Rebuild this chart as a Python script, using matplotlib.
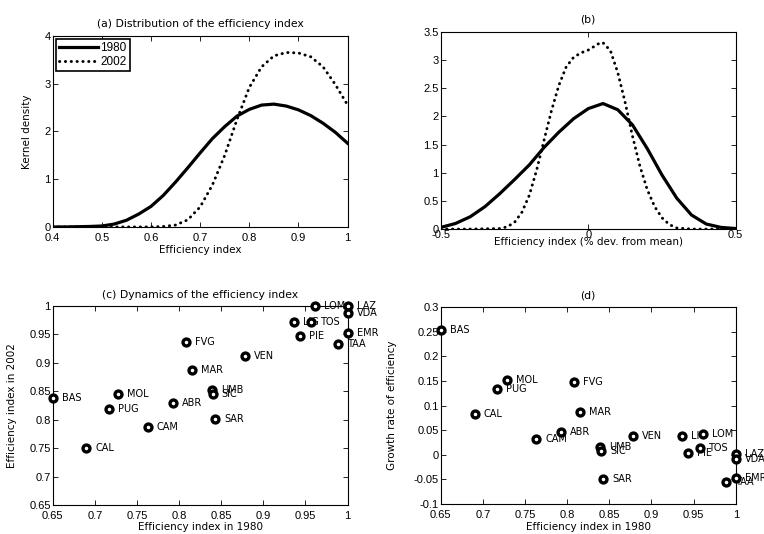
import numpy as np
import matplotlib
matplotlib.use('Agg')
import matplotlib.pyplot as plt
from matplotlib.ticker import FuncFormatter, MultipleLocator

plt.rcParams['font.family'] = ['DejaVu Sans']
plt.rcParams['font.size'] = 7.5
fuente_ticks = ['Liberation Sans Narrow', 'Liberation Sans', 'DejaVu Sans']

# Panel (a): densidad del indice de eficiencia
x_a_1980 = [0.40, 0.425, 0.45, 0.475, 0.50, 0.525, 0.55, 0.575, 0.60, 0.625, 0.65, 0.675, 0.70,
            0.725, 0.75, 0.775, 0.80, 0.825, 0.85, 0.875, 0.90, 0.925, 0.95, 0.975, 1.00]
dens_a_1980 = [0.00, 0.00, 0.005, 0.01, 0.02, 0.06, 0.14, 0.27, 0.43, 0.66, 0.94, 1.24, 1.55,
               1.85, 2.10, 2.32, 2.46, 2.55, 2.57, 2.53, 2.45, 2.33, 2.17, 1.98, 1.75]
x_a_2002 = [0.40, 0.45, 0.50, 0.55, 0.60, 0.625, 0.65, 0.675, 0.70, 0.725, 0.75, 0.775, 0.80,
            0.825, 0.85, 0.875, 0.90, 0.925, 0.95, 0.975, 1.00]
dens_a_2002 = [0.00, 0.00, 0.00, 0.00, 0.00, 0.01, 0.04, 0.15, 0.42, 0.88, 1.50, 2.25, 2.92,
               3.35, 3.58, 3.65, 3.64, 3.56, 3.35, 2.98, 2.55]

# Panel (b): densidad en % de desviacion de la media
x_b_1980 = [-0.50, -0.45, -0.40, -0.35, -0.30, -0.25, -0.20, -0.15, -0.10, -0.05, 0.00, 0.05,
            0.10, 0.15, 0.20, 0.25, 0.30, 0.35, 0.40, 0.45, 0.50]
dens_b_1980 = [0.03, 0.10, 0.22, 0.40, 0.63, 0.88, 1.14, 1.45, 1.72, 1.96, 2.14, 2.23,
               2.12, 1.85, 1.43, 0.96, 0.55, 0.25, 0.09, 0.03, 0.01]
x_b_2002 = [-0.50, -0.40, -0.30, -0.275, -0.25, -0.225, -0.20, -0.175, -0.15, -0.125, -0.10,
            -0.075, -0.05, -0.025, 0.00, 0.025, 0.04, 0.05, 0.075, 0.10, 0.125, 0.15, 0.175,
            0.20, 0.225, 0.25, 0.275, 0.30, 0.35, 0.40, 0.50]
dens_b_2002 = [0.00, 0.00, 0.01, 0.04, 0.12, 0.30, 0.60, 1.05, 1.58, 2.10, 2.55,
               2.88, 3.05, 3.13, 3.18, 3.26, 3.31, 3.31, 3.17, 2.78, 2.25, 1.65, 1.12,
               0.70, 0.40, 0.20, 0.08, 0.02, 0.00, 0.00, 0.00]

# Panels (c) y (d): regiones
regiones = ['BAS', 'MOL', 'PUG', 'CAL', 'CAM', 'ABR', 'FVG', 'MAR', 'UMB', 'SIC',
            'SAR', 'VEN', 'LIG', 'TOS', 'PIE', 'LOM', 'LAZ', 'VDA', 'EMR', 'TAA']
efic_1980 = [0.650, 0.728, 0.717, 0.690, 0.763, 0.793, 0.808, 0.815, 0.839, 0.840,
             0.843, 0.878, 0.936, 0.957, 0.943, 0.961, 1.000, 1.000, 1.000, 0.988]
efic_2002 = [0.838, 0.846, 0.819, 0.750, 0.788, 0.830, 0.936, 0.888, 0.852, 0.845,
             0.802, 0.912, 0.972, 0.972, 0.947, 1.000, 1.000, 0.988, 0.952, 0.934]
crecimiento = [0.254, 0.151, 0.133, 0.083, 0.032, 0.046, 0.147, 0.086, 0.016, 0.007,
               -0.049, 0.038, 0.038, 0.014, 0.004, 0.042, 0.001, -0.009, -0.047, -0.055]

fmt = FuncFormatter(lambda v, p: '%g' % round(v, 4))


def estilo(ax, xpad=4):
    ax.tick_params(direction='in', top=True, right=True, length=3.5, width=0.6,
                   labelsize=8, colors='black', labelfontfamily=fuente_ticks)
    ax.tick_params(axis='x', pad=xpad)
    ax.tick_params(axis='y', pad=1.5)
    for s in ax.spines.values():
        s.set_linewidth(0.8)
    ax.xaxis.set_major_formatter(fmt)
    ax.yaxis.set_major_formatter(fmt)


fig = plt.figure(figsize=(7.64, 5.34), dpi=100)
ax_a = fig.add_axes([0.069, 0.575, 0.386, 0.358])
ax_b = fig.add_axes([0.577, 0.571, 0.386, 0.369])
ax_c = fig.add_axes([0.069, 0.054, 0.386, 0.373])
ax_d = fig.add_axes([0.577, 0.056, 0.386, 0.369])

punteado = dict(linestyle=(0, (0.1, 1.9)), dash_capstyle='round', lw=2.1, color='black')

# (a)
ax_a.plot(x_a_1980, dens_a_1980, color='black', lw=2.3, label='1980')
ax_a.plot(x_a_2002, dens_a_2002, label='2002', **punteado)
ax_a.set_xlim(0.4, 1)
ax_a.set_ylim(0, 4)
ax_a.xaxis.set_major_locator(MultipleLocator(0.1))
ax_a.yaxis.set_major_locator(MultipleLocator(1))
estilo(ax_a)
ax_a.set_title('(a) Distribution of the efficiency index', fontsize=7.8, pad=6)
ax_a.set_xlabel('Efficiency index')
ax_a.set_ylabel('Kernel density')
ax_a.xaxis.set_label_coords(0.5, -0.094)
ax_a.yaxis.set_label_coords(-0.071, 0.5)
leg = ax_a.legend(loc='upper left', fancybox=False, edgecolor='black',
                  prop={'family': ['Liberation Sans'], 'size': 8.5},
                  handlelength=3.3, borderaxespad=0.3, borderpad=0.25, labelspacing=0.15,
                  handletextpad=0.2, framealpha=1)
leg.get_frame().set_linewidth(1.2)

# (b)
ax_b.plot(x_b_1980, dens_b_1980, color='black', lw=2.3)
ax_b.plot(x_b_2002, dens_b_2002, **punteado)
ax_b.set_xlim(-0.5, 0.5)
ax_b.set_ylim(0, 3.5)
ax_b.xaxis.set_major_locator(MultipleLocator(0.5))
ax_b.yaxis.set_major_locator(MultipleLocator(0.5))
estilo(ax_b, xpad=1)
ax_b.set_title('(b)', fontsize=7.8, pad=7)
ax_b.set_xlabel('Efficiency index (% dev. from mean)')
ax_b.xaxis.set_label_coords(0.5, -0.041)


# (c) y (d): dispersion con etiquetas
def dispersion(ax, xs, ys):
    for nombre, xv, yv in zip(regiones, xs, ys):
        ax.annotate(nombre, (xv, yv), xytext=(6.5, 0), textcoords='offset points',
                    va='center', ha='left', fontsize=7, annotation_clip=False, zorder=2)
    ax.plot(xs, ys, 'o', ms=5, mfc='white', mec='black', mew=2.4,
            clip_on=False, zorder=3)


dispersion(ax_c, efic_1980, efic_2002)
ax_c.set_xlim(0.65, 1)
ax_c.set_ylim(0.65, 1)
ax_c.xaxis.set_major_locator(MultipleLocator(0.05))
ax_c.yaxis.set_major_locator(MultipleLocator(0.05))
estilo(ax_c)
ax_c.set_title('(c) Dynamics of the efficiency index', fontsize=7.8, pad=6)
ax_c.set_xlabel('Efficiency index in 1980')
ax_c.set_ylabel('Efficiency index in 2002')
ax_c.xaxis.set_label_coords(0.5, -0.085)
ax_c.yaxis.set_label_coords(-0.122, 0.5)

dispersion(ax_d, efic_1980, crecimiento)
ax_d.set_xlim(0.65, 1)
ax_d.set_ylim(-0.1, 0.3)
ax_d.xaxis.set_major_locator(MultipleLocator(0.05))
ax_d.yaxis.set_major_locator(MultipleLocator(0.05))
estilo(ax_d)
ax_d.set_title('(d)', fontsize=7.8, pad=6)
ax_d.set_xlabel('Efficiency index in 1980')
ax_d.set_ylabel('Growth rate of efficiency')
ax_d.xaxis.set_label_coords(0.5, -0.091)
ax_d.yaxis.set_label_coords(-0.149, 0.5)

fig.savefig('out.png', dpi=100)
